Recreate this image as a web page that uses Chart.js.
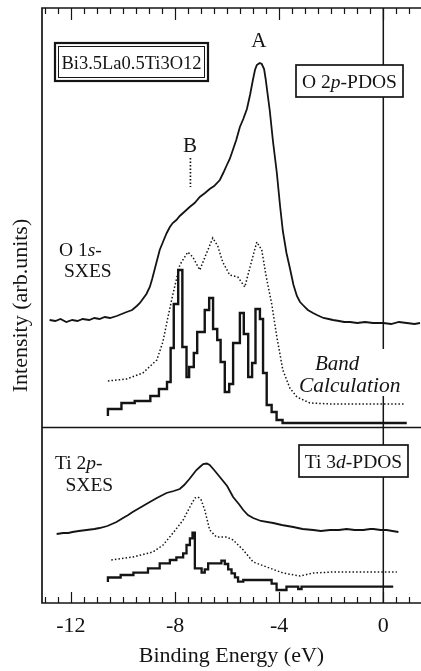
<!DOCTYPE html>
<html>
<head>
<meta charset="utf-8">
<script src="https://cdn.jsdelivr.net/npm/chart.js@4/dist/chart.umd.min.js"></script>
<style>
  html, body { margin: 0; padding: 0; background: #fff; overflow: hidden; }
  canvas { display: block; }
</style>
</head>
<body>
<canvas id="c" width="421" height="671"></canvas>
<script>
// ---------- data (binding energy in eV, intensity in arbitrary units) ----------
const energyTicks = [-12, -8, -4, 0];

// O 1s SXES (upper panel, solid)
const o1sSxes = [
  [-12.82,283],[-12.6,282],[-12.4,284],[-12.18,281],[-11.95,283],[-11.75,282],[-11.55,284],
  [-11.3,283],[-11.1,285],[-10.9,284],[-10.7,286],[-10.5,285],[-10.24,287],[-10.05,289],
  [-9.86,291],[-9.65,293],[-9.47,297],[-9.35,300],[-9.24,304],[-9.1,309],[-8.97,316],
  [-8.88,324],[-8.78,334],[-8.68,344],[-8.59,353],[-8.45,362],[-8.32,370],[-8.2,376],
  [-8.09,380],[-7.95,383],[-7.82,387],[-7.65,391],[-7.44,396],[-7.25,400],[-7.05,406],
  [-6.85,410],[-6.67,414],[-6.5,417],[-6.28,423],[-6.15,430],[-6.01,438],[-5.9,444],
  [-5.78,453],[-5.65,463],[-5.51,476],[-5.38,484],[-5.24,494],[-5.12,508],[-5.01,523],
  [-4.93,533],[-4.86,538],[-4.75,540],[-4.67,539],[-4.58,534],[-4.52,524],[-4.45,510],
  [-4.36,492],[-4.24,462],[-4.09,430],[-3.97,398],[-3.86,372],[-3.72,350],[-3.59,335],
  [-3.45,318],[-3.32,307],[-3.2,301],[-3.09,298],[-2.9,293],[-2.7,290],[-2.55,288],
  [-2.3,285],[-2.1,284],[-1.93,283],[-1.7,282],[-1.5,281],[-1.28,281],[-1.0,280],
  [-0.7,281],[-0.4,280],[-0.2,280],[0.0,280],[0.3,279],[0.6,281],[0.9,280],[1.2,279],[1.41,280]
];

// O 2p PDOS, broadened (upper panel, dotted)
const o2pBroad = [
  [-10.58,222],[-9.86,224],[-9.24,230],[-8.70,243],[-8.47,261],[-8.28,285],[-8.09,308],
  [-7.82,338],[-7.51,351],[-7.32,346],[-7.05,333],[-6.82,348],[-6.55,365],[-6.36,357],
  [-6.17,341],[-5.90,328],[-5.59,326],[-5.32,316],[-5.13,335],[-4.86,361],[-4.67,353],
  [-4.51,328],[-4.28,298],[-4.09,266],[-3.86,233],[-3.59,215],[-3.32,206],[-2.82,200],
  [-1.94,199],[0.83,199]
];

// O 2p PDOS, band calculation histogram (upper panel, steps; value holds from x to next x)
const o2pDos = [
  [-10.58,187],[-10.06,194],[-9.55,200],[-8.95,202],[-8.62,207],[-8.31,214],[-8.17,221],
  [-8.05,255],[-7.88,299],[-7.72,333],[-7.56,256],[-7.46,226],[-7.28,236],[-7.15,250],
  [-6.86,271],[-6.69,293],[-6.54,305],[-6.38,274],[-6.25,263],[-6.09,241],[-5.92,211],
  [-5.77,219],[-5.51,260],[-5.36,290],[-5.19,269],[-5.04,226],[-4.91,240],[-4.74,294],
  [-4.62,284],[-4.48,230],[-4.29,198],[-4.10,191],[-3.87,183],[-3.72,180],[0.90,180]
];

// Ti 2p SXES (lower panel, solid)
const ti2pSxes = [
  [-12.55,69],[-12.3,70],[-12.1,70],[-11.94,71],[-11.7,72],[-11.4,73],[-11.1,74],[-10.9,75],
  [-10.6,77],[-10.25,81],[-10.0,85],[-9.8,88],[-9.63,91],[-9.3,96],[-8.97,101],[-8.7,105],
  [-8.33,110],[-8.05,112],[-7.82,114],[-7.65,118],[-7.45,124],[-7.3,129],[-7.18,133],
  [-7.05,136],[-6.92,139],[-6.78,139.5],[-6.67,138],[-6.5,133],[-6.28,126],[-6.0,117],
  [-5.77,106],[-5.55,99],[-5.38,93],[-5.2,88],[-5.0,85],[-4.7,82],[-4.23,80],[-3.9,78],
  [-3.46,76],[-3.1,74],[-2.69,73],[-2.4,72],[-2.05,73],[-1.7,73],[-1.41,74],[-1.1,73],
  [-0.77,73],[-0.5,74],[-0.38,74],[-0.1,73],[0.13,73],[0.35,72],[0.58,71]
];

// Ti 3d PDOS, broadened (lower panel, dotted)
const ti3dBroad = [
  [-10.45,43],[-9.62,46],[-8.85,51],[-8.46,58],[-8.08,70],[-7.69,83],[-7.43,96],[-7.24,105],
  [-7.12,106],[-7.01,104],[-6.86,93],[-6.67,73],[-6.41,66],[-6.02,66],[-5.77,63],[-5.38,53],
  [-5.00,41],[-4.48,36],[-3.85,30],[-3.20,27],[-2.69,30],[-1.92,31],[0.52,31]
];

// Ti 3d PDOS, band calculation histogram (lower panel, steps)
const ti3dDos = [
  [-10.58,21],[-10.09,25.5],[-9.60,28],[-9.04,30.3],[-8.59,34.7],[-8.20,39.7],[-7.95,43],
  [-7.69,45.7],[-7.56,49.7],[-7.43,58],[-7.33,64.7],[-7.24,70.3],[-6.98,34.7],[-6.86,30.3],
  [-6.73,33.7],[-6.22,39.7],[-6.09,42.3],[-5.96,39],[-5.83,33.7],[-5.70,29.7],[-5.58,25.7],
  [-5.38,21.3],[-4.29,23],[-4.10,19.3],[-3.72,13],[-3.27,16.3],[-3.14,14],[-2.75,16.3],[0.38,16.3]
];

// guide lines
const panelDivider = [[-13.2,175.5],[1.6,175.5]];
const fermiLine = [[0,0],[0,595]];
const markerB = [[-7.41,445],[-7.41,416]];

// ---------- chart ----------
const ink = '#141414';
const serif = "'Liberation Serif', 'Times New Roman', serif";
const pts = a => a.map(p => ({x: p[0], y: p[1]}));

function drawRuns(ctx, runs, x, y, size, align) {
  let w = 0;
  runs.forEach(r => { ctx.font = (r[1] || '') + ' ' + size + 'px ' + serif; w += ctx.measureText(r[0]).width; });
  let cx = align === 'center' ? x - w / 2 : x;
  ctx.textAlign = 'left';
  runs.forEach(r => {
    ctx.font = (r[1] || '') + ' ' + size + 'px ' + serif;
    ctx.fillText(r[0], cx, y);
    cx += ctx.measureText(r[0]).width;
  });
}

const decor = {
  id: 'decor',
  afterDatasetsDraw(chart) {
    const {ctx, chartArea: a, scales: {x, y}} = chart;
    const X = v => x.getPixelForValue(v);
    ctx.save();
    ctx.fillStyle = ink; ctx.strokeStyle = ink;
    ctx.textBaseline = 'alphabetic';

    // formula box (double frame)
    ctx.fillStyle = '#fff';
    ctx.fillRect(55, 43, 153, 38);
    ctx.fillStyle = ink;
    ctx.lineWidth = 2.2; ctx.strokeRect(55, 43, 153, 38);
    ctx.lineWidth = 1; ctx.strokeRect(58.5, 46.5, 146, 31);
    drawRuns(ctx, [['Bi3.5La0.5Ti3O12', '']], 131.5, 68.5, 18.5, 'center');

    // O 2p-PDOS box
    ctx.fillStyle = '#fff'; ctx.fillRect(296, 65, 107, 32); ctx.fillStyle = ink;
    ctx.lineWidth = 1.7; ctx.strokeRect(296, 65, 107, 32);
    drawRuns(ctx, [['O 2', ''], ['p', 'italic'], ['-PDOS', '']], 349.5, 87.5, 19.5, 'center');

    // Ti 3d-PDOS box
    ctx.fillStyle = '#fff'; ctx.fillRect(299, 445, 109, 32); ctx.fillStyle = ink;
    ctx.lineWidth = 1.7; ctx.strokeRect(299, 445, 109, 32);
    drawRuns(ctx, [['Ti 3', ''], ['d', 'italic'], ['-PDOS', '']], 353.5, 467.5, 19.5, 'center');

    // Band Calculation label
    ctx.fillStyle = '#fff'; ctx.fillRect(297, 349, 116, 47); ctx.fillStyle = ink;
    drawRuns(ctx, [['Band', 'italic']], 315, 370, 21, 'left');
    drawRuns(ctx, [['Calculation', 'italic']], 299, 392, 21.5, 'left');

    // peak labels
    drawRuns(ctx, [['A', '']], X(-4.78), 47, 21, 'center');
    drawRuns(ctx, [['B', '']], X(-7.43), 152, 21, 'center');

    // spectrum labels
    drawRuns(ctx, [['O 1', ''], ['s', 'italic'], ['-', '']], 59, 256, 19.5, 'left');
    drawRuns(ctx, [['SXES', '']], 64, 276.5, 19.5, 'left');
    drawRuns(ctx, [['Ti 2', ''], ['p', 'italic'], ['-', '']], 55, 469, 19.5, 'left');
    drawRuns(ctx, [['SXES', '']], 65.5, 491, 19.5, 'left');

    // frame (left, top, bottom)
    ctx.lineWidth = 1.7;
    ctx.beginPath();
    ctx.moveTo(a.right + 2, a.top); ctx.lineTo(a.left, a.top);
    ctx.lineTo(a.left, a.bottom); ctx.lineTo(a.right + 2, a.bottom);
    ctx.stroke();

    // inward tick marks every 0.5 eV, longer at labelled energies
    ctx.lineWidth = 1.2;
    ctx.beginPath();
    for (let k = -26; k <= 2; k++) {
      const v = k / 2;
      const px = Math.round(X(v)) + 0.5;
      if (px < a.left + 1 || px > a.right) continue;
      const major = energyTicks.includes(v);
      const lb = major ? 11 : 6, lt = major ? 12 : 6;
      ctx.moveTo(px, a.bottom); ctx.lineTo(px, a.bottom - lb);
      ctx.moveTo(px, a.top); ctx.lineTo(px, a.top + lt);
    }
    ctx.stroke();
    ctx.restore();
  }
};

const base = { fill: false, pointRadius: 0, borderColor: ink, tension: 0 };

new Chart(document.getElementById('c'), {
  type: 'line',
  data: {
    datasets: [
      Object.assign({}, base, { label: 'Fermi level', data: pts(fermiLine), borderWidth: 1.5 }),
      Object.assign({}, base, { label: 'divider', data: pts(panelDivider), borderWidth: 1.6 }),
      Object.assign({}, base, { label: 'B marker', data: pts(markerB), borderWidth: 1.7, borderDash: [1.5, 2] }),
      Object.assign({}, base, { label: 'O 1s SXES', data: pts(o1sSxes), borderWidth: 1.8 }),
      Object.assign({}, base, { label: 'O 2p PDOS broadened', data: pts(o2pBroad), borderWidth: 1.5, borderDash: [1.5, 2.1] }),
      Object.assign({}, base, { label: 'O 2p PDOS', data: pts(o2pDos), borderWidth: 2.4, stepped: 'after' }),
      Object.assign({}, base, { label: 'Ti 2p SXES', data: pts(ti2pSxes), borderWidth: 1.8 }),
      Object.assign({}, base, { label: 'Ti 3d PDOS broadened', data: pts(ti3dBroad), borderWidth: 1.5, borderDash: [1.5, 2.1] }),
      Object.assign({}, base, { label: 'Ti 3d PDOS', data: pts(ti3dDos), borderWidth: 2.3, stepped: 'after' })
    ]
  },
  options: {
    responsive: false,
    animation: false,
    devicePixelRatio: 1,
    layout: { padding: { top: 8, right: 0, left: 0, bottom: 0 } },
    plugins: { legend: { display: false }, tooltip: { enabled: false } },
    scales: {
      x: {
        type: 'linear', min: -13.112, max: 1.448,
        afterBuildTicks: s => { s.ticks = energyTicks.map(v => ({ value: v })); },
        afterFit: s => { s.height = 68; },
        grid: { display: false, drawTicks: false },
        border: { display: false },
        ticks: { font: { family: serif, size: 22 }, color: ink, padding: 10, maxRotation: 0, autoSkip: false,
                 callback: v => String(v) },
        title: { display: true, text: 'Binding Energy (eV)', font: { family: serif, size: 22 }, color: ink,
                 padding: { top: 0, bottom: 2 } }
      },
      y: {
        type: 'linear', min: 0, max: 595,
        afterFit: s => { s.width = 42; },
        grid: { display: false, drawTicks: false },
        border: { display: false },
        ticks: { display: false },
        title: { display: true, text: 'Intensity (arb.units)', font: { family: serif, size: 22 }, color: ink,
                 padding: { top: 8, bottom: 0 } }
      }
    }
  },
  plugins: [decor]
});
</script>
</body>
</html>
